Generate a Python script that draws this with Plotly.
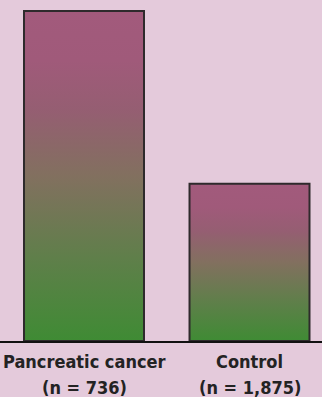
import plotly.graph_objects as go

# Groups and relative bar heights
categories = ["Pancreatic cancer", "Control"]
sample_sizes = ["736", "1,875"]
values = [100, 47.6]

BAR_WIDTH = 0.725
GRADIENT = [
    [0.00, "#3f8b34"],
    [0.25, "#5f7f4a"],
    [0.50, "#82705f"],
    [0.70, "#955e72"],
    [0.85, "#a05a7a"],
    [1.00, "#a25a7c"],
]
LABEL_FONT = dict(family="Liberation Sans Narrow, DejaVu Sans Condensed, sans-serif",
                  size=18, weight="bold", color="#232323")

fig = go.Figure()

for i, v in enumerate(values):
    x0, x1 = i - BAR_WIDTH / 2, i + BAR_WIDTH / 2
    fig.add_trace(go.Scatter(
        x=[x0, x0, x1, x1, x0],
        y=[0, v, v, 0, 0],
        mode="lines",
        fill="toself",
        fillgradient=dict(type="vertical", colorscale=GRADIENT),
        line=dict(color="#2e2a2c", width=2),
        hoverinfo="skip",
        showlegend=False,
    ))

# Category names and sample sizes under the baseline
for i, (c, n) in enumerate(zip(categories, sample_sizes)):
    fig.add_annotation(x=i, y=-0.061, xref="x", yref="paper", text=c,
                       showarrow=False, xanchor="center", yanchor="middle",
                       font=LABEL_FONT)
    fig.add_annotation(x=i, y=-0.136, xref="x", yref="paper", text=f"(n = {n})",
                       showarrow=False, xanchor="center", yanchor="middle",
                       font=LABEL_FONT)

fig.update_layout(
    width=322, height=397,
    margin=dict(l=0, r=0, t=0, b=56),
    paper_bgcolor="#e4cadb",
    plot_bgcolor="#e4cadb",
    xaxis=dict(
        range=[-0.5076, 1.438],
        showticklabels=False,
        showgrid=False, zeroline=False,
        showline=True, linecolor="#111111", linewidth=2,
        ticks="", fixedrange=True,
    ),
    yaxis=dict(
        range=[0, 103.3],
        visible=False, showgrid=False, zeroline=False, fixedrange=True,
    ),
)

fig.write_html("out.html")
